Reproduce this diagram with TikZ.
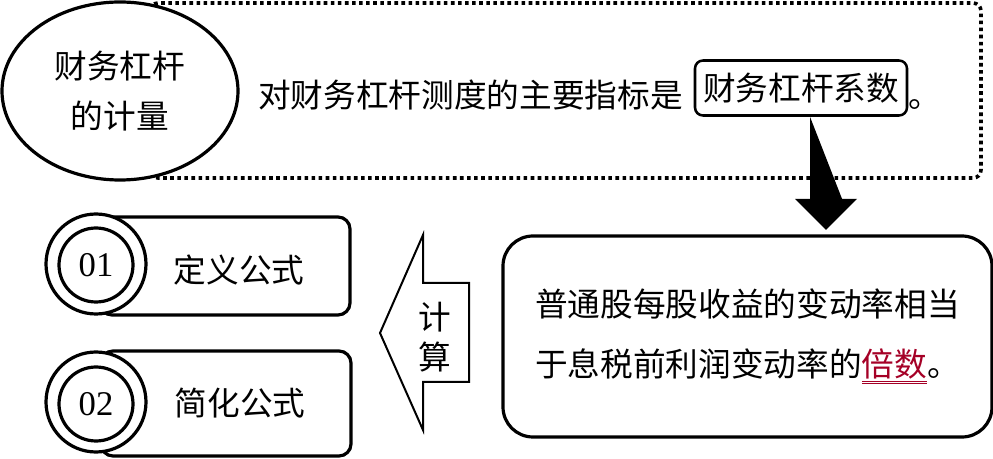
\documentclass[tikz,border=0pt]{standalone}
\usepackage{fontspec}
\newfontfamily\cjk{Noto Sans CJK SC}
\newfontfamily\serifnum{Liberation Serif}
\usetikzlibrary{positioning, shapes.geometric}
\definecolor{beishu}{RGB}{165,0,38}

\begin{document}
\begin{tikzpicture}[
    x=0.75pt, y=-0.75pt,
    every node/.style={font=\cjk\fontsize{24.5}{30}\selectfont},
    thickline/.style={draw=black, line width=2.4pt},
    ring/.style={circle, thickline, fill=white, inner sep=0pt},
    pill/.style={rounded corners=9pt, thickline, fill=white, minimum width=187.5pt, inner sep=0pt},
    keybox/.style={draw=black, line width=1.9pt, rounded corners=6pt, minimum width=159pt, minimum height=41.25pt, inner sep=0pt},
    num/.style={font=\serifnum\fontsize{26}{30}\selectfont}
]

\useasboundingbox (0,0) rectangle (993,459);

% Top frame
\draw[line width=2.7pt, dash pattern=on 2.7pt off 2.6pt, rounded corners=6pt] (150,3) rectangle (981,178);
\node[ellipse, thickline, fill=white, minimum width=177pt, minimum height=133.5pt, align=center, font=\cjk\fontsize{24.5}{38}\selectfont] (measure) at (120,91) {财务杠杆\\的计量};

% Main index
\node[anchor=west, inner sep=0pt] (lead) at (258,95) {对财务杠杆测度的主要指标是};
\node[keybox] (coef) at (801,88) {财务杠杆系数};
\node[anchor=base west, inner sep=0pt] (stop) at (lead.base -| coef.east) {。};

% Down arrow
\fill[black] (coef.south) ++(9,0) -- ++(0,82) -- ++(-15,0) -- ++(31,31) -- ++(31,-31) -- ++(-15,0) -- cycle;

% Result box
\node[thickline, rounded corners=22.5pt, minimum width=366.75pt, minimum height=150.75pt, align=left, font=\cjk\fontsize{24.5}{45}\selectfont] (result) at (747.5,336.5) {普通股每股收益的变动率相当\\于息税前利润变动率的{\color{beishu}$\underline{\underline{\hbox{倍数}}}$}。};

% Left arrow
\draw[line width=1.5pt, fill=white] (380,333) -- (423,235) -- (423,283) -- (469,283) -- (469,382) -- (423,382) -- (423,430) -- cycle;
\node[align=center, font=\cjk\fontsize{24.5}{30}\selectfont] (calc) at (435,337) {计\\算};

% Formula 01
\node[pill, minimum height=73.5pt] (pillA) at (225,266) {};
\node[ring, minimum size=75pt] (ringA) at (96,264) {};
\node[ring, minimum size=55.5pt, num] (numA) at (96,265) {01};
\node (nameA) at (239,270) {定义公式};

% Formula 02
\node[pill, minimum height=78.75pt] (pillB) at (226,403.5) {};
\node[ring, minimum size=75pt] (ringB) at (96,402) {};
\node[ring, minimum size=55.5pt, num] (numB) at (96,404) {02};
\node (nameB) at (240,403) {简化公式};

\end{tikzpicture}
\end{document}
